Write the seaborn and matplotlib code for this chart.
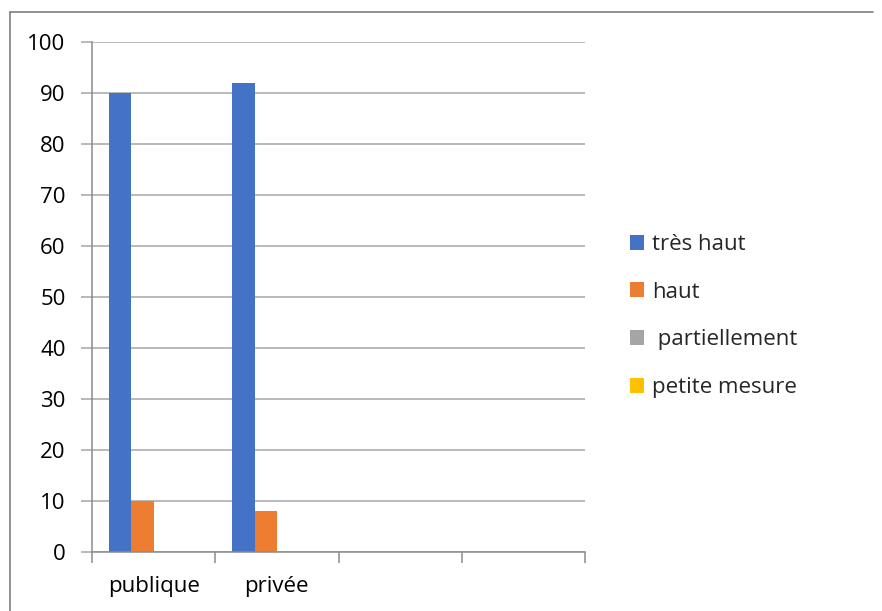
import matplotlib
matplotlib.use("Agg")
import matplotlib.pyplot as plt
from matplotlib.lines import Line2D
from matplotlib.patches import Patch
import pandas as pd
import seaborn as sns

# Categories on the x axis (the last two slots are empty in the chart)
categories = ["publique", "privée", "c3", "c4"]
tick_labels = ["publique", "privée", "", ""]
series = ["très haut", "haut", " partiellement", "petite mesure"]
tres_haut = [90, 92, 0, 0]
haut = [10, 8, 0, 0]
partiellement = [0, 0, 0, 0]
petite_mesure = [0, 0, 0, 0]
colors = ["#4472C4", "#ED7D31", "#A5A5A5", "#FFC000"]
y_ticks = [0, 10, 20, 30, 40, 50, 60, 70, 80, 90, 100]

rows = []
for name, vals in zip(series, [tres_haut, haut, partiellement, petite_mesure]):
    for cat, v in zip(categories, vals):
        rows.append({"categorie": cat, "serie": name, "valeur": v})
df = pd.DataFrame(rows)

sns.set_theme(style="white")
plt.rcParams["font.family"] = ["Open Sans", "DejaVu Sans"]

FS = 16
W, H = 882, 611
fig = plt.figure(figsize=(W / 100, H / 100), dpi=100)
ax = fig.add_axes([92 / W, 1 - 552 / H, (585 - 92) / W, (552 - 42) / H])

sns.barplot(data=df, x="categorie", y="valeur", hue="serie",
            order=categories, hue_order=series, palette=colors,
            width=0.724, linewidth=0, saturation=1, ax=ax, legend=False)

grid_c = "#A6A6A6"
axis_c = "#8C8C8C"

ax.set_xlim(-0.5, 3.5)
ax.set_ylim(0, 100)
ax.set_yticks(y_ticks)
ax.set_yticklabels([str(t) for t in y_ticks], fontsize=FS, color="#000000")
ax.yaxis.grid(True, color=grid_c, linewidth=1.1)
ax.set_axisbelow(True)

# category labels sit between the boundary ticks
ax.set_xticks([-0.5, 0.5, 1.5, 2.5, 3.5])
ax.set_xticklabels([])
ax.set_xticks([0, 1, 2, 3], minor=True)
ax.set_xticklabels(tick_labels, minor=True, fontsize=FS, color="#000000")
ax.tick_params(axis="x", which="major", length=8, width=1.1, color=axis_c,
               direction="out", bottom=True)
ax.tick_params(axis="x", which="minor", length=0, pad=17)
ax.tick_params(axis="y", length=8, width=1.1, color=grid_c, direction="out",
               left=True, pad=11)
ax.set_xlabel("")
ax.set_ylabel("")

for s in ["top", "right"]:
    ax.spines[s].set_visible(False)
ax.spines["left"].set_color(axis_c)
ax.spines["left"].set_linewidth(1.1)
ax.spines["bottom"].set_color(axis_c)
ax.spines["bottom"].set_linewidth(1.1)

handles = [Patch(facecolor=c, edgecolor="none", label=s) for s, c in zip(series, colors)]
fig.legend(handles=handles, loc="center left",
           bbox_to_anchor=(610 / W, 1 - 316 / H), frameon=False,
           fontsize=FS, handlelength=0.65, handleheight=0.65,
           handletextpad=0.35, labelspacing=1.2)

# chart frame
fig.add_artist(Line2D([10 / W, 10 / W], [0, 1 - 12 / H], transform=fig.transFigure,
                      color="#7F7F7F", linewidth=1.2))
fig.add_artist(Line2D([10 / W, 873 / W], [1 - 12 / H, 1 - 12 / H], transform=fig.transFigure,
                      color="#7F7F7F", linewidth=1.2))

fig.savefig("out.png", dpi=100, facecolor="white")
